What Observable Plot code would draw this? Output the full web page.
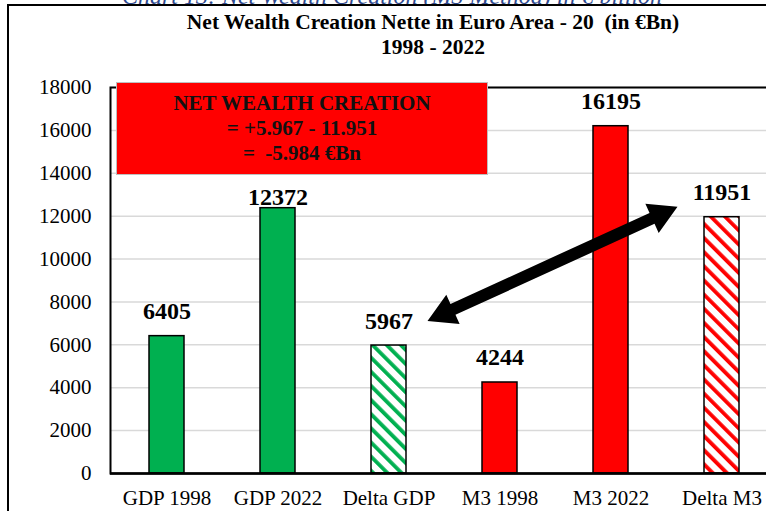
<!DOCTYPE html>
<html>
<head>
<meta charset="utf-8">
<script src="https://cdn.jsdelivr.net/npm/d3@7"></script>
<script src="https://cdn.jsdelivr.net/npm/@observablehq/plot@0.6"></script>
<style>
  html, body { margin: 0; padding: 0; background: #fff; }
  #wrap { position: relative; width: 766px; height: 511px; overflow: hidden; font-family: "Liberation Serif", "Times New Roman", serif; }
  #caption { position: absolute; left: 0; width: 784px; top: -16px; text-align: center; font-style: italic; font-size: 24px; line-height: 24px; color: #2f4a8f; white-space: nowrap; }
  #frame { position: absolute; left: 7px; top: 4px; width: 820px; height: 620px; border: 2px solid #000; box-sizing: border-box; background: #fff; }
  #title { position: absolute; left: 0; width: 866px; top: 10px; text-align: center; font-weight: bold; font-size: 21.5px; line-height: 25px; color: #000; }
  #chart { position: absolute; left: 0; top: 60px; width: 800px; }
  #chart svg { max-width: none !important; }
  #note { position: absolute; left: 116px; top: 82px; width: 372px; height: 93px; box-sizing: border-box; background: #ff0000; border: 1.5px solid #bfbfbf; display: flex; flex-direction: column; justify-content: center; align-items: center; text-align: center; font-weight: bold; font-size: 21px; line-height: 25px; color: #111; white-space: pre; }
</style>
</head>
<body>
<div id="wrap">
  <div id="caption"></div>
  <div id="frame"></div>
  <div id="title"></div>
  <div id="chart"></div>
  <div id="note"></div>
</div>
<script>
// ---- data ----
const categories = ["GDP 1998", "GDP 2022", "Delta GDP", "M3 1998", "M3 2022", "Delta M3"];
const values = [6405, 12372, 5967, 4244, 16195, 11951];
const groups = ["GDP", "GDP", "GDP", "M3", "M3", "M3"];
const hatched = [false, false, true, false, false, true];
const yTicks = [0, 2000, 4000, 6000, 8000, 10000, 12000, 14000, 16000, 18000];
const captionText = "Chart 13: Net Wealth Creation (M3 Method) in € billion";
const titleLines = ["Net Wealth Creation Nette in Euro Area - 20  (in €Bn)", "1998 - 2022"];
const noteLines = ["NET WEALTH CREATION", "= +5.967 - 11.951", "=  -5.984 €Bn"];
const arrowFrom = "Delta GDP";
const arrowTo = "Delta M3";

// ---- text ----
document.getElementById("caption").textContent = captionText;
document.getElementById("title").innerHTML = titleLines.map(t => `<div>${t.replace(/ {2}/g, " &nbsp;")}</div>`).join("");
document.getElementById("note").textContent = noteLines.join("\n");

const rows = categories.map((c, i) => ({cat: c, value: values[i], group: groups[i], hatched: hatched[i]}));
const solidColor = {GDP: "#00b050", M3: "#ff0000"};
const hatchFill = {GDP: "url(#hatchGDP)", M3: "url(#hatchM3)"};

const W = 800, H = 451;
const plot = Plot.plot({
  width: W,
  height: H,
  marginLeft: 110,
  marginRight: 23,
  marginTop: 27,
  marginBottom: 38,
  style: {fontFamily: "'Liberation Serif', 'Times New Roman', serif", fontSize: "21px", color: "#000", background: "transparent", overflow: "visible", maxWidth: "none"},
  x: {domain: categories, paddingInner: 0.685, paddingOuter: 0.3425, label: null, tickSize: 0, tickPadding: 17},
  y: {domain: [0, 18000], ticks: yTicks, tickFormat: d => String(d), label: null, tickSize: 0, tickPadding: 19},
  marks: [
    Plot.ruleY(yTicks.filter(t => t > 0), {stroke: "#d9d9d9", strokeWidth: 1.5}),
    Plot.barY(rows.filter(d => !d.hatched), {x: "cat", y: "value", fill: d => solidColor[d.group], stroke: "#000", strokeWidth: 1.5}),
    Plot.barY(rows.filter(d => d.hatched), {x: "cat", y: "value", fill: d => hatchFill[d.group], stroke: "#000", strokeWidth: 1.5}),
    Plot.frame({stroke: "#000", strokeWidth: 2}),
    Plot.ruleY([0], {stroke: "#000", strokeWidth: 2.5}),
    Plot.text(rows.filter(d => d.cat !== "GDP 2022"), {x: "cat", y: "value", text: d => String(d.value), lineAnchor: "bottom", dy: -17, fontWeight: "bold", fontSize: 24, fill: "#000"}),
    Plot.text(rows.filter(d => d.cat === "GDP 2022"), {x: "cat", y: "value", text: d => String(d.value), lineAnchor: "bottom", dy: -3, fontWeight: "bold", fontSize: 24, fill: "#000"})
  ],
  color: {type: "identity"}
});
plot.style.maxWidth = "none";
document.getElementById("chart").appendChild(plot);

// patterns for hatched bars
const svg = d3.select(plot);
const defs = svg.insert("defs", ":first-child");
[["hatchGDP", "#00b050"], ["hatchM3", "#ff0000"]].forEach(([id, col]) => {
  const p = defs.append("pattern").attr("id", id).attr("patternUnits", "userSpaceOnUse")
    .attr("width", 10).attr("height", 10).attr("patternTransform", "rotate(-45)");
  p.append("rect").attr("width", 10).attr("height", 10).attr("fill", "#fff");
  p.append("rect").attr("x", 0).attr("width", 3.8).attr("height", 10).attr("fill", col);
});

// double-headed arrow between the two delta labels, placed through the plot's scales
const xs = plot.scale("x"), ys = plot.scale("y");
const cx = c => xs.apply(c) + xs.bandwidth / 2;
const iFrom = categories.indexOf(arrowFrom), iTo = categories.indexOf(arrowTo);
const A = [cx(arrowFrom) + 39, ys.apply(values[iFrom]) - 24];
const B = [cx(arrowTo) - 44, ys.apply(values[iTo]) - 10];
const dx = B[0] - A[0], dy = B[1] - A[1], len = Math.hypot(dx, dy);
const u = [dx / len, dy / len], n = [-u[1], u[0]];
const L = 28, HW = 16, SW = 6;
const pt = (p, a, b) => [p[0] + u[0] * a + n[0] * b, p[1] + u[1] * a + n[1] * b];
const poly = [
  A, pt(A, L, HW), pt(A, L, SW), pt(B, -L, SW), pt(B, -L, HW), B,
  pt(B, -L, -HW), pt(B, -L, -SW), pt(A, L, -SW), pt(A, L, -HW)
];
svg.append("path").attr("d", "M" + poly.map(p => p.join(",")).join("L") + "Z").attr("fill", "#000");
</script>
</body>
</html>
